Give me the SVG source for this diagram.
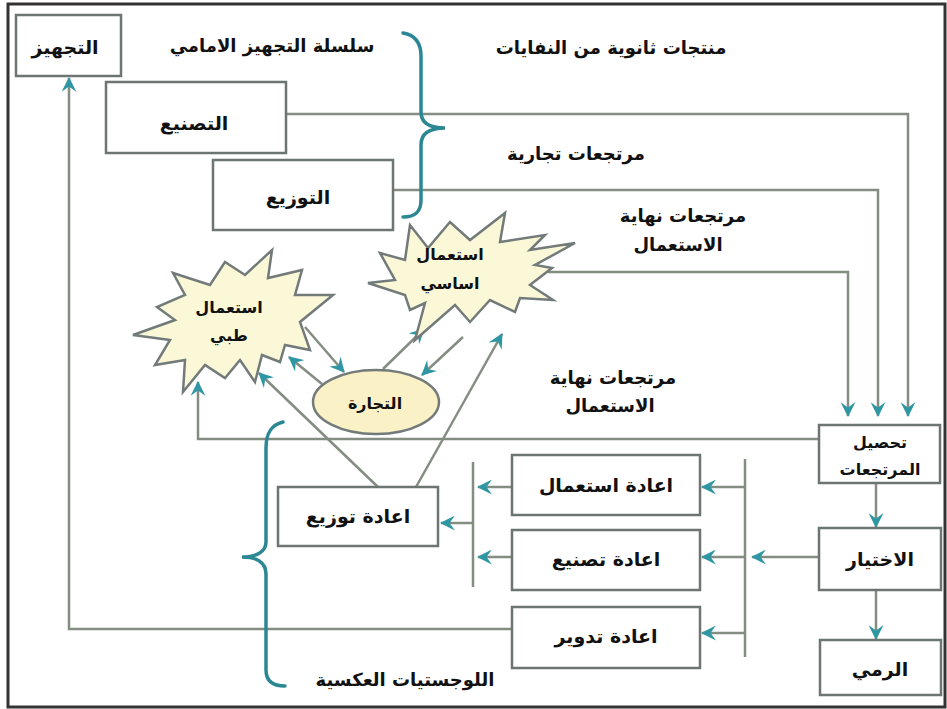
<svg xmlns="http://www.w3.org/2000/svg" width="947" height="709" viewBox="0 0 947 709">
<style>
.box{fill:#fff;stroke:#6d7573;stroke-width:2.5}
.star{fill:#fbf8d8;stroke:#737b7a;stroke-width:2.5;stroke-linejoin:miter}
.ln{fill:none;stroke:#848d82;stroke-width:2.5}
.brace{fill:none;stroke:#2b8893;stroke-width:3.5;stroke-linecap:round}
.t{font-family:"DejaVu Sans",sans-serif;font-weight:bold;font-size:19px;fill:#111;text-anchor:middle}
.lbl{font-family:"DejaVu Sans",sans-serif;font-weight:bold;font-size:18px;fill:#111;text-anchor:middle}
.st{font-family:"DejaVu Sans",sans-serif;font-weight:bold;font-size:16px;fill:#111;text-anchor:middle}
</style>
<defs>
<marker id="ah" viewBox="0 0 14 14" refX="13" refY="7" markerWidth="15" markerHeight="15" markerUnits="userSpaceOnUse" orient="auto">
<path d="M0,0 L14,7 L0,14 L5,7 z" fill="#2f97a4"/>
</marker>
</defs>
<rect x="0" y="0" width="947" height="709" fill="#fff"/>
<rect x="8" y="4" width="937" height="703" fill="none" stroke="#333" stroke-width="3"/>

<g id="connectors">
<path class="ln" d="M286,114 H908 V416" marker-end="url(#ah)"/>
<path class="ln" d="M393,190 H878 V416" marker-end="url(#ah)"/>
<path class="ln" d="M548,272 H848 V416" marker-end="url(#ah)"/>
<path class="ln" d="M819,439 H198 V382" marker-end="url(#ah)"/>
<path class="ln" d="M876,483 V527" marker-end="url(#ah)"/>
<path class="ln" d="M876,590 V639" marker-end="url(#ah)"/>
<path class="ln" d="M819,557 H752" marker-end="url(#ah)"/>
<path class="ln" d="M745,459 V657"/>
<path class="ln" d="M745,487 H702" marker-end="url(#ah)"/>
<path class="ln" d="M745,557 H702" marker-end="url(#ah)"/>
<path class="ln" d="M745,633 H702" marker-end="url(#ah)"/>
<path class="ln" d="M512,629 H69 V78" marker-end="url(#ah)"/>
<path class="ln" d="M473,462 V587"/>
<path class="ln" d="M512,487 H478" marker-end="url(#ah)"/>
<path class="ln" d="M512,557 H478" marker-end="url(#ah)"/>
<path class="ln" d="M473,523 H441" marker-end="url(#ah)"/>
<path class="ln" d="M378,487 L259,373" marker-end="url(#ah)"/>
<path class="ln" d="M416,487 L502,334" marker-end="url(#ah)"/>
<path class="ln" d="M305,327 L344,372" marker-end="url(#ah)"/>
<path class="ln" d="M322,384 L289,357" marker-end="url(#ah)"/>
<path class="ln" d="M383,369 L424,329" marker-end="url(#ah)"/>
<path class="ln" d="M463,337 L422,375" marker-end="url(#ah)"/>
</g>

<g id="brace-forward">
<path class="brace" d="M403,33 C415,35 421,43 421,56 L421,112 C421,123 430,128 445,128 C430,128 421,133 421,145 L421,200 C421,212 415,217 403,217"/>
</g>
<g id="brace-reverse">
<path class="brace" d="M283,422 C271,425 266,433 266,448 L266,542 C266,552 256,557 242,557 C256,557 266,562 266,574 L266,670 C266,681 273,686 285,686"/>
</g>

<g id="n-tajhiz"><rect class="box" x="16" y="15" width="105" height="61"/><text class="t" x="65" y="54">التجهيز</text></g>
<g id="n-tasnie"><rect class="box" x="106" y="82" width="180" height="71"/><text class="t" x="194" y="130">التصنيع</text></g>
<g id="n-tawzie"><rect class="box" x="213" y="160" width="180" height="70"/><text class="t" x="298" y="204">التوزيع</text></g>
<g id="n-tahsil"><rect class="box" x="819" y="425" width="121" height="58"/><text class="st" x="880" y="448" font-size="17">تحصيل</text><text class="st" x="880" y="475" font-size="17">المرتجعات</text></g>
<g id="n-ikhtiyar"><rect class="box" x="819" y="528" width="122" height="62"/><text class="t" x="880" y="566">الاختيار</text></g>
<g id="n-ramy"><rect class="box" x="820" y="640" width="121" height="55"/><text class="t" x="880" y="676">الرمي</text></g>
<g id="n-isti3mal"><rect class="box" x="512" y="455" width="188" height="60"/><text class="t" x="606" y="492">اعادة استعمال</text></g>
<g id="n-tasni3"><rect class="box" x="512" y="530" width="188" height="60"/><text class="t" x="606" y="566">اعادة تصنيع</text></g>
<g id="n-tadwir"><rect class="box" x="512" y="607" width="188" height="61"/><text class="t" x="606" y="643">اعادة تدوير</text></g>
<g id="n-tawzi3-i"><rect class="box" x="278" y="487" width="160" height="59"/><text class="t" x="358" y="523">اعادة توزيع</text></g>
<g id="n-tijara"><ellipse cx="376" cy="402" rx="63" ry="32" fill="#fbf1c6" stroke="#737b7a" stroke-width="2.5"/><text class="st" x="375" y="409" font-size="17">التجارة</text></g>
<g id="n-tibbi"><polygon class="star" points="272,250 268,278 302,270 295,295 333,295 300,322 310,350 285,345 280,362 262,355 255,382 240,360 225,378 205,365 183,392 185,360 155,365 170,340 133,335 175,320 157,307 185,295 173,273 210,285 225,262 245,275"/><text class="st" x="229" y="313">استعمال</text><text class="st" x="229" y="341">طبي</text></g>
<g id="n-asasi"><polygon class="star" points="505,213 500,242 545,235 530,250 575,243 535,265 552,268 530,285 553,300 520,298 515,312 490,300 470,322 455,305 415,340 425,303 410,310 405,295 368,283 395,280 380,253 405,260 410,225 428,248 450,222 470,240"/><text class="st" x="450" y="260">استعمال</text><text class="st" x="450" y="289">اساسي</text></g>

<g id="labels">
<text class="lbl" x="272" y="52">سلسلة التجهيز الامامي</text>
<text class="lbl" x="611" y="54">منتجات ثانوية من النفايات</text>
<text class="lbl" x="576" y="160">مرتجعات تجارية</text>
<text class="lbl" x="683" y="222">مرتجعات نهاية</text>
<text class="lbl" x="678" y="251">الاستعمال</text>
<text class="lbl" x="613" y="384">مرتجعات نهاية</text>
<text class="lbl" x="610" y="412">الاستعمال</text>
<text class="lbl" x="405" y="686">اللوجستيات العكسية</text>
</g>
</svg>
